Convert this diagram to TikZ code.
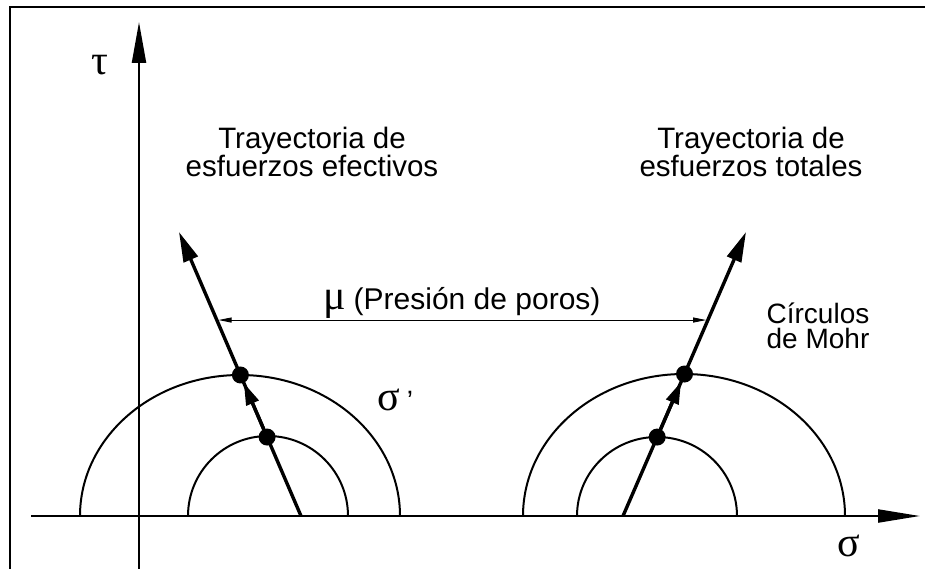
\documentclass[tikz,border=0pt]{standalone}
\usepackage{fontspec}
\setmainfont{Liberation Sans}
\newfontfamily\gk{Liberation Serif}
\usetikzlibrary{arrows.meta,calc}
\begin{document}
\begin{tikzpicture}[x=1pt,y=-1pt,
  frame/.style={line width=1.8pt},
  axis/.style={line width=2.2pt,-{Triangle[length=42pt,width=13pt]}},
  spath/.style={line width=3.4pt,-{Triangle[length=30pt,width=15pt]}},
  midarrow/.style={line width=3.4pt,-{Triangle[length=22pt,width=13pt]}},
  mohr/.style={line width=2pt},
  dim/.style={line width=0.9pt,shorten <=1.7pt,shorten >=1.7pt,
    {Triangle[length=13pt,width=5pt]}-{Triangle[length=13pt,width=5pt]}},
  dot/.style={circle,fill,inner sep=0pt,minimum size=17pt},
  lbl/.style={font=\fontsize{29.5}{21.5}\selectfont,align=center,inner sep=0pt},
  greek/.style={font=\gk\fontsize{42}{42}\selectfont,inner sep=0pt}]

\useasboundingbox (0,0) rectangle (925,569);

% frame (top and left edges)
\coordinate (F1) at (10,569);
\coordinate (F2) at (10,7);
\coordinate (F3) at (925,7);
\draw[frame] (F1) -- (F2) -- (F3);

% axes
\coordinate (S0) at (31,516);
\coordinate (S1) at (920,516);
\coordinate (T0) at (139,569);
\coordinate (T1) at (139,22);
\draw[axis] (S0) -- (S1);
\draw[axis,-{Triangle[length=41pt,width=14pt]}] (T0) -- (T1);

% Mohr circles
\draw[mohr] (80,516) arc[start angle=180,end angle=360,x radius=160,y radius=141];
\draw[mohr] (188,516) arc[start angle=180,end angle=360,x radius=80,y radius=80];
\draw[mohr] (523,516) arc[start angle=180,end angle=360,x radius=161,y radius=142];
\draw[mohr] (577,516) arc[start angle=180,end angle=360,x radius=80,y radius=79];

% stress paths
\coordinate (Lb) at (301,516);
\coordinate (Lt) at (179,232);
\coordinate (Rb) at (623,516);
\coordinate (Rt) at (746,232);
\draw[spath] (Lb) -- (Lt);
\draw[spath] (Rb) -- (Rt);

\node[dot] (L1) at ($(Lb)!0.278!(Lt)$) {};
\node[dot] (L2) at ($(Lb)!0.4965!(Lt)$) {};
\node[dot] (R1) at ($(Rb)!0.278!(Rt)$) {};
\node[dot] (R2) at ($(Rb)!0.5!(Rt)$) {};
\draw[midarrow] (L1) -- (L2);
\draw[midarrow] (R1) -- (R2);

% pore pressure dimension
\coordinate (Lm) at ($(Lb)!0.69!(Lt)$);
\coordinate (Rm) at ($(Rb)!0.69!(Rt)$);
\draw[dim] (Lm) -- (Rm);

% labels
\node[lbl,anchor=base] (effl) at (312,177) {Trayectoria de\\esfuerzos efectivos};
\node[lbl,anchor=base] (totl) at (751,177) {Trayectoria de\\esfuerzos totales};
\node[lbl,anchor=base,font=\fontsize{28}{24.5}\selectfont] (mohrl) at (818,348) {Círculos\\de Mohr};
\node[greek] (tau) at (100,65) {τ};
\node[greek] (sig) at (849,546) {σ};
\node[greek,anchor=base west] (sigp) at (377,410) {σ\,{\normalfont\fontsize{28}{28}\selectfont ’}};
\node[anchor=base west,inner sep=0pt] (mu) at (323,309)
  {{\gk\fontsize{42}{42}\selectfont μ}\hspace{8pt}{\fontsize{30}{30}\selectfont (Presión de poros)}};
\end{tikzpicture}
\end{document}
